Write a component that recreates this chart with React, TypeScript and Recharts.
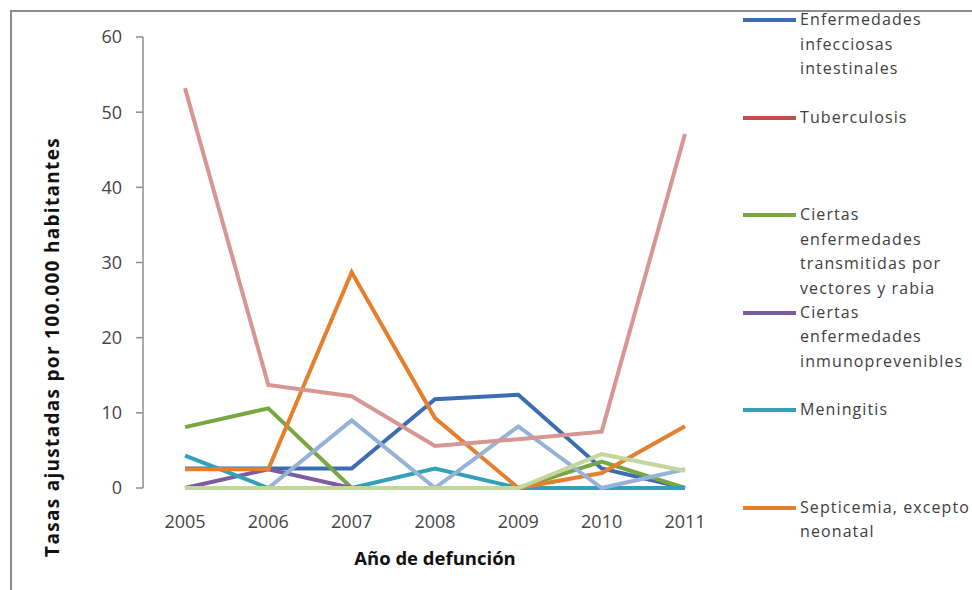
import { Legend, Line, LineChart, XAxis, YAxis } from 'recharts';

const years = ['2005', '2006', '2007', '2008', '2009', '2010', '2011'];
const yTicks = [0, 10, 20, 30, 40, 50, 60];
const bandTicks = [0, 1, 2, 3, 4, 5, 6, 7];

// values
const intestinales = [2.6, 2.6, 2.6, 11.8, 12.4, 2.6, 0];
const tuberculosis = [0, 0, 0, 0, 0, 0, 0];
const vectores = [8.1, 10.6, 0, 0, 0, 3.5, 0];
const inmunoprevenibles = [0, 2.5, 0, 0, 0, 0, 0];
const meningitis = [4.3, 0, 0, 2.6, 0, 0, 0];
const septicemia = [2.5, 2.5, 28.7, 9.3, 0, 2.0, 8.2];
// series whose legend entries are cut off in the original
const serie7 = [0, 0, 9.0, 0, 8.2, 0, 2.5];
const serie8 = [53.2, 13.7, 12.2, 5.6, 6.5, 7.5, 47.1];
const serie9 = [0, 0, 0, 0, 0, 4.5, 2.3];

const SERIES = [
  { key: 'intestinales', name: 'Enfermedades\ninfecciosas\nintestinales', color: '#3D6DB1', values: intestinales },
  { key: 'tuberculosis', name: 'Tuberculosis', color: '#C0504D', values: tuberculosis },
  { key: 'vectores', name: 'Ciertas\nenfermedades\ntransmitidas por\nvectores y rabia', color: '#78A640', values: vectores },
  { key: 'inmuno', name: 'Ciertas\nenfermedades\ninmunoprevenibles', color: '#7A5C9F', values: inmunoprevenibles },
  { key: 'meningitis', name: 'Meningitis', color: '#33A0BA', values: meningitis },
  { key: 'septicemia', name: 'Septicemia, excepto\nneonatal', color: '#E3802F', values: septicemia },
  { key: 'serie7', name: 'Serie 7', color: '#95B3D7', values: serie7, hidden: true },
  { key: 'serie8', name: 'Serie 8', color: '#D79593', values: serie8, hidden: true },
  { key: 'serie9', name: 'Serie 9', color: '#C3D69B', values: serie9, hidden: true },
];

const chartData = years.map((year, i) => {
  const row: Record<string, string | number> = { year };
  SERIES.forEach((s) => {
    row[s.key] = s.values[i];
  });
  return row;
});

const FONT = '"Open Sans", "Liberation Sans", sans-serif';

// only the first six entries fit in the original legend box
const renderLegend = () => (
  <div style={{ position: 'relative', width: 230, height: 560, fontFamily: FONT }}>
    {SERIES.filter((s) => !s.hidden).map((s, index) => (
      <div key={s.key} style={{ position: 'absolute', left: 0, top: index * 97.5, display: 'flex' }}>
        <svg width={57} height={24} style={{ flex: 'none' }}>
          <line x1={0} y1={12} x2={53} y2={12} stroke={s.color} strokeWidth={4} />
        </svg>
        <div
          style={{
            whiteSpace: 'pre-line',
            fontSize: 16,
            letterSpacing: 1.1,
            lineHeight: '24.5px',
            color: '#404040',
            marginTop: -1,
          }}
        >
          {s.name}
        </div>
      </div>
    ))}
  </div>
);

const renderYLabel = () => (
  <text
    x={52}
    y={347}
    transform="rotate(-90 52 347)"
    textAnchor="middle"
    dominantBaseline="central"
    style={{ fontFamily: FONT, fontSize: 19, fontWeight: 700, letterSpacing: 1.3, fill: '#111' }}
  >
    Tasas ajustadas  por 100.000 habitantes
  </text>
);

export default function App() {
  return (
    <div style={{ position: 'absolute', left: 0, top: 0, width: 972, height: 590, background: '#fff' }}>
      <div
        style={{
          position: 'absolute',
          left: 10,
          top: 10,
          width: 962,
          height: 580,
          borderTop: '2px solid #8c8c8c',
          borderLeft: '2px solid #8c8c8c',
          boxSizing: 'border-box',
        }}
      />
      <LineChart
        width={972}
        height={590}
        data={chartData}
        margin={{ top: 37, right: 245, bottom: 72, left: 63 }}
        style={{ position: 'absolute', left: 0, top: 0 }}
      >
        <XAxis
          xAxisId="band"
          type="number"
          domain={[0, 7]}
          ticks={bandTicks}
          height={0}
          tickSize={7}
          tickFormatter={() => ''}
          stroke="#8c8c8c"
          strokeWidth={1.5}
        />
        <XAxis
          xAxisId="cat"
          dataKey="year"
          height={30}
          padding={{ left: 42, right: 42 }}
          axisLine={false}
          tickLine={false}
          tickSize={6}
          tickMargin={21}
          interval={0}
          tick={{ fontFamily: FONT, fontSize: 18, fill: '#454545' }}
          label={{
            value: 'Año de defunción',
            position: 'insideBottom',
            offset: -47,
            style: { fontFamily: FONT, fontSize: 18.5, fontWeight: 700, fill: '#111' },
          }}
        />
        <YAxis
          domain={[0, 60]}
          ticks={yTicks}
          width={80}
          tickSize={7}
          tickMargin={14}
          stroke="#8c8c8c"
          strokeWidth={1.5}
          tick={{ fontFamily: FONT, fontSize: 18, fill: '#454545' }}
          label={{ content: renderYLabel }}
        />
        {SERIES.map((s) => (
          <Line
            key={s.key}
            xAxisId="cat"
            dataKey={s.key}
            name={s.name}
            stroke={s.color}
            strokeWidth={4}
            dot={false}
            type="linear"
            legendType={s.hidden ? 'none' : 'line'}
            isAnimationActive={false}
          />
        ))}
        <Legend
          layout="horizontal"
          verticalAlign="middle"
          align="center"
          content={renderLegend}
          wrapperStyle={{ position: 'absolute', left: 743, top: 8, width: 230, height: 560 }}
        />
      </LineChart>
    </div>
  );
}
